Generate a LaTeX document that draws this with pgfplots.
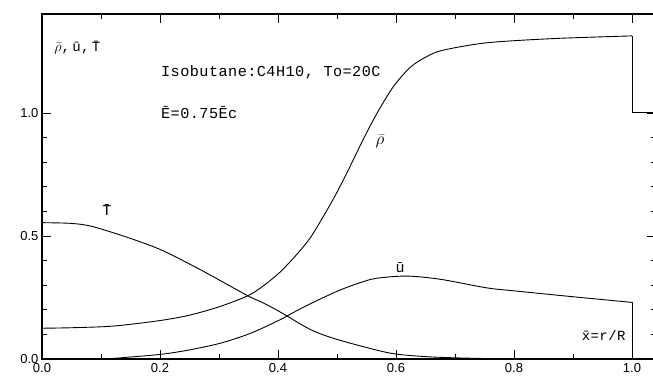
\documentclass[border=0pt]{standalone}
\usepackage{pgfplots}
\pgfplotsset{compat=1.18}
\usepackage{fontspec}
\setmainfont{Liberation Sans}
\newfontfamily\mono[LetterSpace=3]{Liberation Mono}
\begin{document}
\begin{tikzpicture}
\useasboundingbox (-42pt,-18pt) rectangle (611pt,359pt);
\begin{axis}[
  at={(0,0)}, anchor=south west,
  scale only axis, width=614pt, height=345pt,
  xmin=0, xmax=1.0407, ymin=0, ymax=1.402,
  xtick={0,0.2,0.4,0.6,0.8,1.0},
  ytick={0,0.5,1.0},
  minor x tick num=1, minor y tick num=4,
  tick align=inside,
  major tick length=9pt, minor tick length=5pt,
  xticklabel style={yshift=-1pt},
  tick label style={font=\fontsize{13}{15}\selectfont},
  /pgf/number format/assume math mode=true,
  /pgf/number format/.cd, fixed, fixed zerofill, precision=1, /tikz/.cd,
  axis line style={line width=1.2pt},
  every tick/.style={black, line width=0.8pt},
  clip=false,
]
% rho
\addplot[black, line width=0.9pt, smooth, tension=0.5] coordinates {
(0,0.125) (0.05,0.127) (0.11,0.132) (0.15,0.141) (0.205,0.158) (0.25,0.178)
(0.30,0.212) (0.348,0.256) (0.375,0.297) (0.403,0.352) (0.43,0.42) (0.454,0.49)
(0.477,0.58) (0.499,0.673) (0.522,0.782) (0.545,0.895) (0.567,0.995) (0.595,1.105) (0.624,1.185)
(0.652,1.229) (0.68,1.255) (0.754,1.285) (0.866,1.302) (1.0,1.313)};
\addplot[black, line width=0.9pt] coordinates {(1.0,1.313) (1.0,1.003) (1.0407,1.003)};
% T
\addplot[black, line width=0.9pt, smooth, tension=0.5] coordinates {
(0,0.554) (0.05,0.551) (0.086,0.538) (0.15,0.49) (0.205,0.44) (0.273,0.357)
(0.348,0.258) (0.375,0.228) (0.403,0.192) (0.454,0.121) (0.494,0.084)
(0.556,0.043) (0.60,0.02) (0.663,0.008) (0.75,0.002) (0.85,0.0) (1.0,0.0)};
% u
\addplot[black, line width=0.9pt, smooth, tension=0.5] coordinates {
(0,0) (0.098,0.0) (0.15,0.008) (0.205,0.02) (0.25,0.037) (0.302,0.064)
(0.353,0.104) (0.403,0.159) (0.437,0.203) (0.471,0.243) (0.505,0.280)
(0.539,0.31) (0.567,0.328) (0.618,0.337) (0.675,0.324) (0.754,0.289) (0.8,0.277)
(0.9,0.253) (1.0,0.23)};
\addplot[black, line width=0.9pt] coordinates {(1.0,0.23) (1.0,0)};
% labels
\node[font=\fontsize{14}{15}\mono] at (axis cs:0.06,1.264) {$\bar\rho$,\,\=u,\,\=T};
\node[font=\fontsize{15.2}{18}\mono, anchor=west] at (axis cs:0.196,1.163) {Isobutane:C4H10, To=20C};
\node[font=\fontsize{15.2}{18}\mono, anchor=west] at (axis cs:0.196,1.0) {\=E=0.75\=Ec};
\node[font=\fontsize{16}{17}\selectfont] at (axis cs:0.573,0.885) {$\bar\rho$};
\node[font=\fontsize{15}{17}\mono] at (axis cs:0.11,0.606) {\=T};
\node[font=\fontsize{15}{17}\mono] at (axis cs:0.607,0.37) {\=u};
\node[font=\fontsize{14}{15}\mono, anchor=east] at (axis cs:0.995,0.097) {\=x=r/R};
\end{axis}
\end{tikzpicture}
\end{document}
